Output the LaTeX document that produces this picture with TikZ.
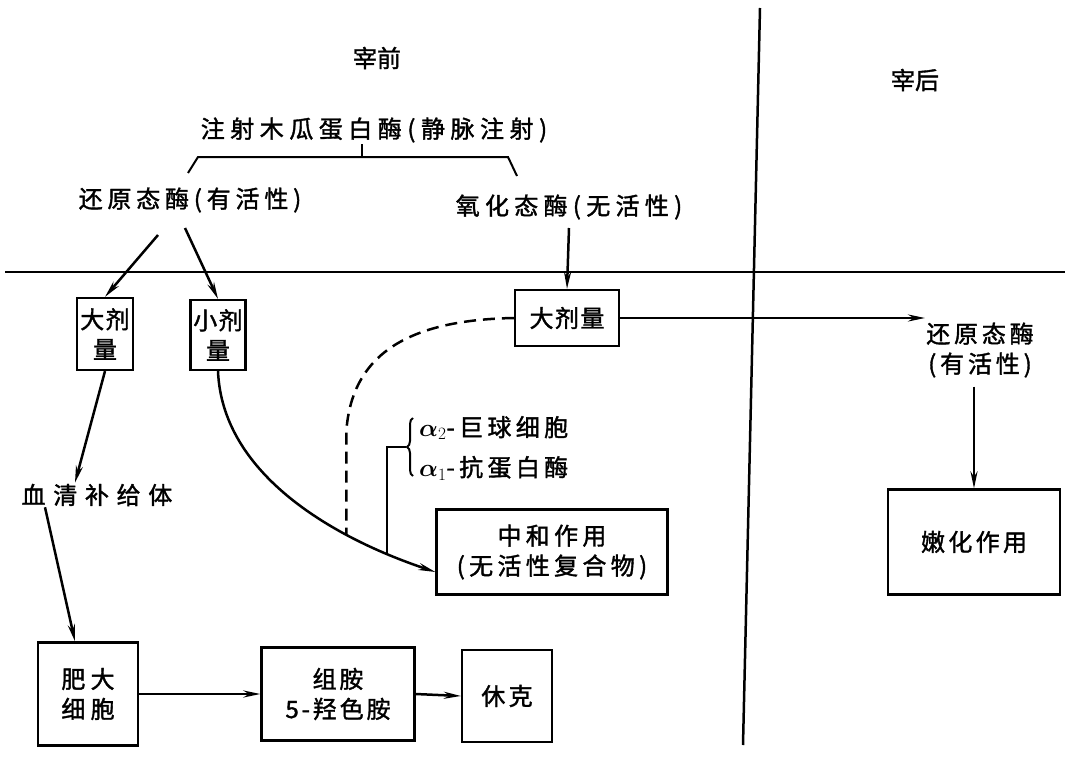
\documentclass[tikz,border=0pt]{standalone}
\usepackage{fontspec}
\usepackage{amsmath}
\setmainfont{Noto Sans CJK SC}[FakeBold=1.5]
\usetikzlibrary{arrows.meta,decorations.pathreplacing}
\tikzset{
  lbl/.style={font=\fontsize{24}{30}\selectfont, inner sep=1pt, align=center},
  box/.style={draw, line width=2.2pt, inner sep=0pt, align=center, font=\fontsize{24}{30}\selectfont},
  ln/.style={line width=2.5pt},
  arr/.style={line width=2.5pt, -{Stealth[length=17pt,width=7pt]}},
}
\newcommand{\ls}[1]{\addfontfeature{LetterSpace=#1}}
\begin{document}
\begin{tikzpicture}[x=1pt,y=-1pt]
\useasboundingbox (0,0) rectangle (1069,760);
% frame lines
\coordinate (hl) at (5,272);
\coordinate (hr) at (1065,272);
\coordinate (vt) at (760,8);
\coordinate (vb) at (743,745);
\draw[ln] (hl) -- (hr);
\draw[ln] (vt) -- (vb);
% headers
\node[lbl] (pre) at (377,58) {宰前};
\node[lbl] (post) at (915,80) {宰后};
\node[lbl] (inj) at (374,130) {\ls{23}注射木瓜蛋白酶(静脉注射)};
% bracket
\coordinate (bl) at (188,173);
\coordinate (bl2) at (198,157);
\coordinate (br2) at (508,157);
\coordinate (br) at (517,176);
\coordinate (bm) at (362,157);
\draw[line width=2pt] (bl) -- (bl2) -- (br2) -- (br);
\draw[line width=2pt] (bm) -- (inj.south -| bm);
% enzyme states
\node[lbl] (red) at (190,200) {\ls{20}还原态酶(有活性)};
\node[lbl] (ox) at (569,207) {\ls{22}氧化态酶(无活性)};
% boxes
\node[box, minimum width=56pt, minimum height=72pt] (big1) at (105,334) {\ls{6}大剂\\\ls{6}量};
\node[box, minimum width=55pt, minimum height=70pt] (small) at (218,335) {\ls{6}小剂\\\ls{6}量};
\node[box, minimum width=104pt, minimum height=56pt] (big2) at (567,318) {\ls{6}大剂量};
\node[lbl] (red2) at (980,350) {\ls{16}还原态酶\\\ls{16}(有活性)};
\node[box, minimum width=172pt, minimum height=105pt] (tend) at (974,542) {\ls{14}嫩化作用};
\node[lbl] (serum) at (97,495) {\ls{32}血清补给体};
\node[box, minimum width=231pt, minimum height=85pt] (neut) at (552,552) {\ls{18}中和作用\\\ls{18}(无活性复合物)};
\node[lbl, anchor=west] (a2) at (418,428) {$\boldsymbol{\alpha}_2$\ls{18}-巨球细胞};
\node[lbl, anchor=west] (a1) at (418,468) {$\boldsymbol{\alpha}_1$\ls{18}-抗蛋白酶};
\node[box, minimum width=100pt, minimum height=103pt] (mast) at (88,694) {\ls{22}肥大\\\ls{22}细胞};
\node[box, minimum width=153pt, minimum height=93pt] (hist) at (338,694) {\ls{12}组胺\\\ls{12}5-羟色胺};
\node[box, minimum width=90pt, minimum height=92pt] (shock) at (507,696) {\ls{14}休克};
% arrows
\coordinate (r1) at (158,235);
\coordinate (r2) at (185,228);
\draw[arr] (r1) -- (big1.north);
\draw[arr] (r2) -- (small.north);
\draw[arr] (ox.south |- 0,228) -- (big2.north);
\draw[arr] (big2.east) -- (red2.west |- big2.east);
\draw[arr] (red2.south -| tend.north) ++(0,8) -- (tend.north);
\draw[arr] (big1.south) -- (serum.north -| 75,0);
\draw[arr] (serum.south -| 45,0) -- (mast.north -| 75,0);
\draw[arr] (mast.east) -- (hist.west);
\draw[arr] (hist.east) -- (shock.west);
% curve
\draw[arr] (small.south) .. controls (222,470) and (325,535) .. (neut.west |- 0,572)
  coordinate[pos=0.72] (c1) coordinate[pos=0.85] (c2);
\draw[line width=2.5pt, dash pattern=on 12pt off 7pt] (big2.west) .. controls (400,320) and (352,360) .. (c1 |- 0,430) -- (c1);
% brace
\coordinate (bt) at (406,447);
\draw[line width=2pt] (c2) -- (c2 |- bt) -- (bt);
\draw[line width=2pt, decorate, decoration={brace, amplitude=6pt}] (413,476) -- (413,418);
\end{tikzpicture}
\end{document}
